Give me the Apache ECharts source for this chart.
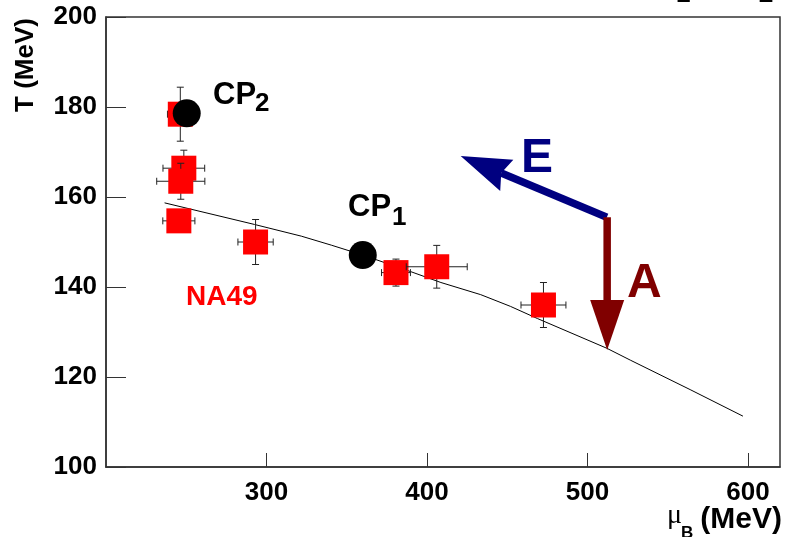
<!DOCTYPE html>
<html>
<head>
<meta charset="utf-8">
<script src="https://cdn.jsdelivr.net/npm/echarts@6/dist/echarts.min.js"></script>
<style>
html,body{margin:0;padding:0;background:#fff;}
#c{width:785px;height:537px;}
</style>
</head>
<body>
<div id="c"></div>
<script>
// NA49 freeze-out points
var na49MuB  = [246.3, 248.5, 246.6, 245.4, 293.2, 380.7, 406.1, 472.6];
var na49T    = [178.4, 166.4, 163.5, 154.7, 150.0, 143.2, 144.5, 136.0];
var na49MuErr= [8, 13, 15, 10, 11, 9, 19, 14];
var na49TErr = [6, 4, 4, 2, 5, 3, 4.75, 5];
// critical points
var cpMuB = [250.3, 360.0];
var cpT   = [178.6, 147.1];
// freeze-out curve
var curveMuB = [236.5, 292.5, 321.7, 340.4, 360.0, 390.0, 408.7, 433.5, 452.0, 468.8, 512.0, 527.0, 564.0, 596.9];
var curveT   = [158.7, 153.9, 151.3, 149.3, 147.1, 143.4, 141.0, 138.3, 135.7, 133.0, 126.4, 123.7, 117.2, 111.3];
// arrows: [muB start, T start, muB end, T end]
var arrowE = [512.1, 155.5, 421.0, 169.1];
var arrowA = [512.3, 155.5, 512.3, 126.0];
// ticks
var xTicks = [300, 400, 500, 600];
var yTicks = [100, 120, 140, 160, 180, 200];

var FONT = 'Liberation Sans, Arial, sans-serif';
var chart = echarts.init(document.getElementById('c'));

var na49Data = na49MuB.map(function(m, i){ return [m, na49T[i], na49MuErr[i], na49TErr[i]]; });
var cpData = cpMuB.map(function(m, i){ return [m, cpT[i]]; });
var curveData = curveMuB.map(function(m, i){ return [m, curveT[i]]; });

function renderNA49(params, api){
  var x = api.value(0), y = api.value(1), ex = api.value(2), ey = api.value(3);
  var c = api.coord([x, y]);
  var l = api.coord([x - ex, y]), r = api.coord([x + ex, y]);
  var t = api.coord([x, y + ey]), b = api.coord([x, y - ey]);
  var cap = 3.5, s = 25;
  var st = {stroke: '#222', lineWidth: 1};
  return {type: 'group', children: [
    {type: 'line', shape: {x1: l[0], y1: c[1], x2: r[0], y2: c[1]}, style: st},
    {type: 'line', shape: {x1: l[0], y1: c[1]-cap, x2: l[0], y2: c[1]+cap}, style: st},
    {type: 'line', shape: {x1: r[0], y1: c[1]-cap, x2: r[0], y2: c[1]+cap}, style: st},
    {type: 'line', shape: {x1: c[0], y1: t[1], x2: c[0], y2: b[1]}, style: st},
    {type: 'line', shape: {x1: c[0]-cap, y1: t[1], x2: c[0]+cap, y2: t[1]}, style: st},
    {type: 'line', shape: {x1: c[0]-cap, y1: b[1], x2: c[0]+cap, y2: b[1]}, style: st},
    {type: 'rect', shape: {x: c[0]-s/2, y: c[1]-s/2, width: s, height: s}, style: {fill: '#ff0000'}}
  ]};
}

function makeArrowRender(color, notch){
  return function(params, api){
    var p0 = api.coord([api.value(0), api.value(1)]);
    var p1 = api.coord([api.value(2), api.value(3)]);
    var dx = p1[0]-p0[0], dy = p1[1]-p0[1];
    var len = Math.sqrt(dx*dx+dy*dy);
    var ux = dx/len, uy = dy/len, nx = -uy, ny = ux;
    var hl = 50, hw = 17;
    var bx = p1[0]-ux*hl, by = p1[1]-uy*hl;
    var nxp = p1[0]-ux*(hl-notch), nyp = p1[1]-uy*(hl-notch);
    return {type: 'group', children: [
      {type: 'line', shape: {x1: p0[0], y1: p0[1], x2: nxp, y2: nyp}, style: {stroke: color, lineWidth: 7.5, lineCap: 'butt'}},
      {type: 'polygon', shape: {points: [[p1[0], p1[1]], [bx+nx*hw, by+ny*hw], [nxp, nyp], [bx-nx*hw, by-ny*hw]]}, style: {fill: color}}
    ]};
  };
}

function txt(x, y, s, size, color, opts){
  opts = opts || {};
  return {
    type: 'text', x: x, y: y, rotation: opts.rotation || 0, z: 100,
    style: {
      text: s, x: 0, y: 0,
      font: (opts.weight || 'bold') + ' ' + size + 'px ' + (opts.family || FONT),
      fill: color, align: opts.align || 'left', verticalAlign: 'middle'
    }
  };
}

var option = {
  animation: false,
  backgroundColor: '#ffffff',
  grid: {left: 106, right: 5, top: 17, bottom: 70, show: true, borderColor: '#333', borderWidth: 1.5, outerBoundsMode: 'none'},
  xAxis: {
    type: 'value', min: 200, max: 620,
    axisLine: {show: true, lineStyle: {color: '#333', width: 1.5}},
    axisTick: {show: true, inside: true, length: 14, customValues: xTicks, lineStyle: {color: '#333', width: 1}},
    axisLabel: {customValues: xTicks, fontSize: 26, fontWeight: 'bold', fontFamily: FONT, color: '#000', margin: 26, verticalAlign: 'middle'},
    splitLine: {show: false}
  },
  yAxis: {
    type: 'value', min: 100, max: 200, interval: 20,
    axisLine: {show: true, lineStyle: {color: '#333', width: 1.5}},
    axisTick: {show: true, inside: true, length: 20, customValues: yTicks, lineStyle: {color: '#333', width: 1}},
    axisLabel: {customValues: yTicks, fontSize: 26, fontWeight: 'bold', fontFamily: FONT, color: '#000', margin: 9},
    splitLine: {show: false}
  },
  series: [
    {type: 'line', data: curveData, symbol: 'none', smooth: false, lineStyle: {color: '#000', width: 1}, z: 2, silent: true},
    {type: 'custom', data: na49Data, renderItem: renderNA49, z: 3, silent: true},
    {type: 'scatter', data: cpData, symbol: 'circle', symbolSize: 28, itemStyle: {color: '#000', opacity: 1}, z: 4, silent: true},
    {type: 'custom', data: [arrowE], renderItem: makeArrowRender('#000080', 6), z: 5, silent: true},
    {type: 'custom', data: [arrowA], renderItem: makeArrowRender('#800000', 0), z: 5, silent: true}
  ],
  graphic: [
    txt(26, 65, 'T (MeV)', 26, '#000', {rotation: Math.PI/2, align: 'center'}),
    txt(782, 520, '(MeV)', 30, '#000', {align: 'right'}),
    txt(667, 516, '\u03bc', 28, '#000', {weight: 'normal', family: 'Liberation Serif, serif'}),
    txt(681, 533, 'B', 17, '#000'),
    txt(213, 95, 'CP', 31, '#000'),
    txt(255, 104, '2', 26, '#000'),
    txt(348, 207.5, 'CP', 31, '#000'),
    txt(392, 218, '1', 26, '#000'),
    txt(186, 297, 'NA49', 28, '#ff0000'),
    txt(521, 159, 'E', 48, '#000080'),
    txt(627, 284, 'A', 48, '#800000'),
    txt(683, -4, '1', 24, '#000', {align: 'center', family: 'DejaVu Sans'}),
    txt(766, -4, '2', 24, '#000', {align: 'center', family: 'DejaVu Sans'})
  ]
};
chart.setOption(option);
</script>
</body>
</html>
